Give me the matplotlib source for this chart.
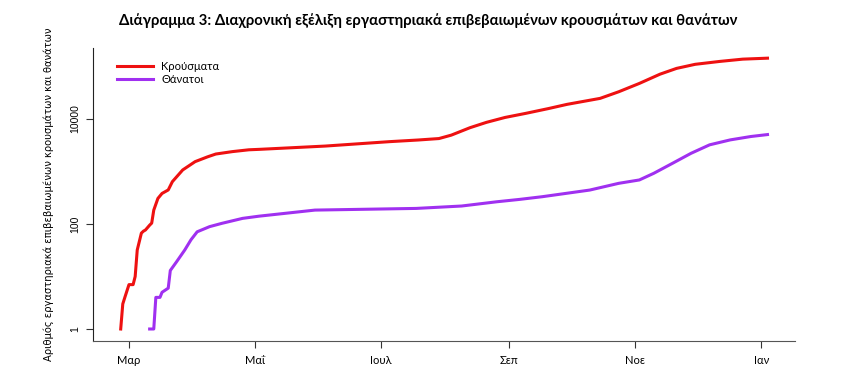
import numpy as np
import pandas as pd
import matplotlib
matplotlib.use("Agg")
import matplotlib.pyplot as plt

# ===== Δεδομένα (εκτίμηση από το διάγραμμα) =====
case_dates = ["2020-02-26", "2020-02-27", "2020-02-28", "2020-03-01", "2020-03-03",
              "2020-03-04", "2020-03-05", "2020-03-07", "2020-03-08", "2020-03-09",
              "2020-03-11", "2020-03-12", "2020-03-13", "2020-03-15", "2020-03-17",
              "2020-03-20", "2020-03-22", "2020-03-27", "2020-04-02", "2020-04-08",
              "2020-04-12", "2020-04-20", "2020-04-28", "2020-05-03", "2020-06-04",
              "2020-07-05", "2020-07-19", "2020-07-29", "2020-08-04", "2020-08-13",
              "2020-08-21", "2020-08-30", "2020-09-09", "2020-09-20", "2020-09-29",
              "2020-10-15", "2020-10-24", "2020-11-03", "2020-11-13", "2020-11-21",
              "2020-11-30", "2020-12-12", "2020-12-23", "2021-01-04"]
cases = [1, 3, 4, 7, 7,
         10, 32, 67, 73, 77,
         95, 104, 184, 307, 382,
         445, 640, 1070, 1540, 1900,
         2150, 2390, 2590, 2640, 3050,
         3700, 3980, 4240, 4930, 6820,
         8630, 10700, 12800, 15800, 19000,
         24700, 33000, 47600, 71400, 92000,
         110000, 125000, 138000, 144000]

death_dates = ["2020-03-11", "2020-03-13", "2020-03-14", "2020-03-16", "2020-03-17",
               "2020-03-20", "2020-03-21", "2020-03-24", "2020-03-28", "2020-03-31",
               "2020-04-03", "2020-04-09", "2020-04-15", "2020-04-25", "2020-05-03",
               "2020-05-30", "2020-07-18", "2020-08-09", "2020-08-26", "2020-09-06",
               "2020-09-17", "2020-10-10", "2020-10-24", "2020-11-03", "2020-11-10",
               "2020-11-19", "2020-11-28", "2020-12-07", "2020-12-17", "2020-12-27",
               "2021-01-04"]
deaths = [1, 1, 4, 4, 5,
          6, 13, 19, 32, 50,
          71, 89, 103, 128, 141,
          184, 198, 220, 265, 294,
          331, 443, 595, 690, 925,
          1430, 2220, 3220, 4000, 4640,
          5050]

tick_dates = ["2020-03-01", "2020-05-01", "2020-07-01", "2020-09-01", "2020-11-01", "2021-01-01"]
tick_labels = ["Μαρ", "Μαΐ", "Ιουλ", "Σεπ", "Νοε", "Ιαν"]

plt.rcParams["font.family"] = ["DejaVu Sans"]

fig = plt.figure(figsize=(8.57, 3.75), dpi=100)
ax = fig.add_axes([0.1085, 0.0907, 0.8192, 0.7813])

ax.plot(pd.to_datetime(case_dates), cases, color="#EE1111", lw=2.2, label="Κρούσματα")
ax.plot(pd.to_datetime(death_dates), deaths, color="#A030F0", lw=2.2, label="Θάνατοι")

ax.set_yscale("log")
ax.set_ylim(0.591, 225000)
ax.set_xlim(pd.Timestamp("2020-02-12 14:00"), pd.Timestamp("2021-01-17 08:00"))

ax.set_yticks([1, 100, 10000])
ax.set_yticklabels(["1", "100", "10000"], rotation=90, va="center",
                   family=["Liberation Sans", "DejaVu Sans"], fontsize=7.5)
ax.yaxis.set_minor_locator(matplotlib.ticker.NullLocator())

ax.set_xticks(pd.to_datetime(tick_dates))
ax.set_xticklabels(tick_labels, family=["Lato", "DejaVu Sans"], fontsize=8)

ax.tick_params(direction="out", length=5, width=0.8, color="#333333")
ax.tick_params(axis="y", pad=4)
ax.tick_params(axis="x", pad=5)

for s in ["top", "right"]:
    ax.spines[s].set_visible(False)
ax.spines["left"].set_color("#222222")
ax.spines["bottom"].set_color("#555555")

ax.set_ylabel("Αριθμός εργαστηριακά επιβεβαιωμένων κρουσμάτων και θανάτων",
              fontsize=7.2, labelpad=12)

fig.text(0.5, 0.945, "Διάγραμμα 3: Διαχρονική εξέλιξη εργαστηριακά επιβεβαιωμένων κρουσμάτων και θανάτων",
         ha="center", va="center", fontsize=10.7, fontweight="bold",
         family=["Lato", "DejaVu Sans"])

leg = ax.legend(loc="upper left", bbox_to_anchor=(0.02, 0.99), frameon=False,
                handlelength=3.2, handletextpad=0.8, labelspacing=0.2,
                prop={"family": ["Lato", "DejaVu Sans"], "size": 8})

fig.savefig("out.png", dpi=100)
